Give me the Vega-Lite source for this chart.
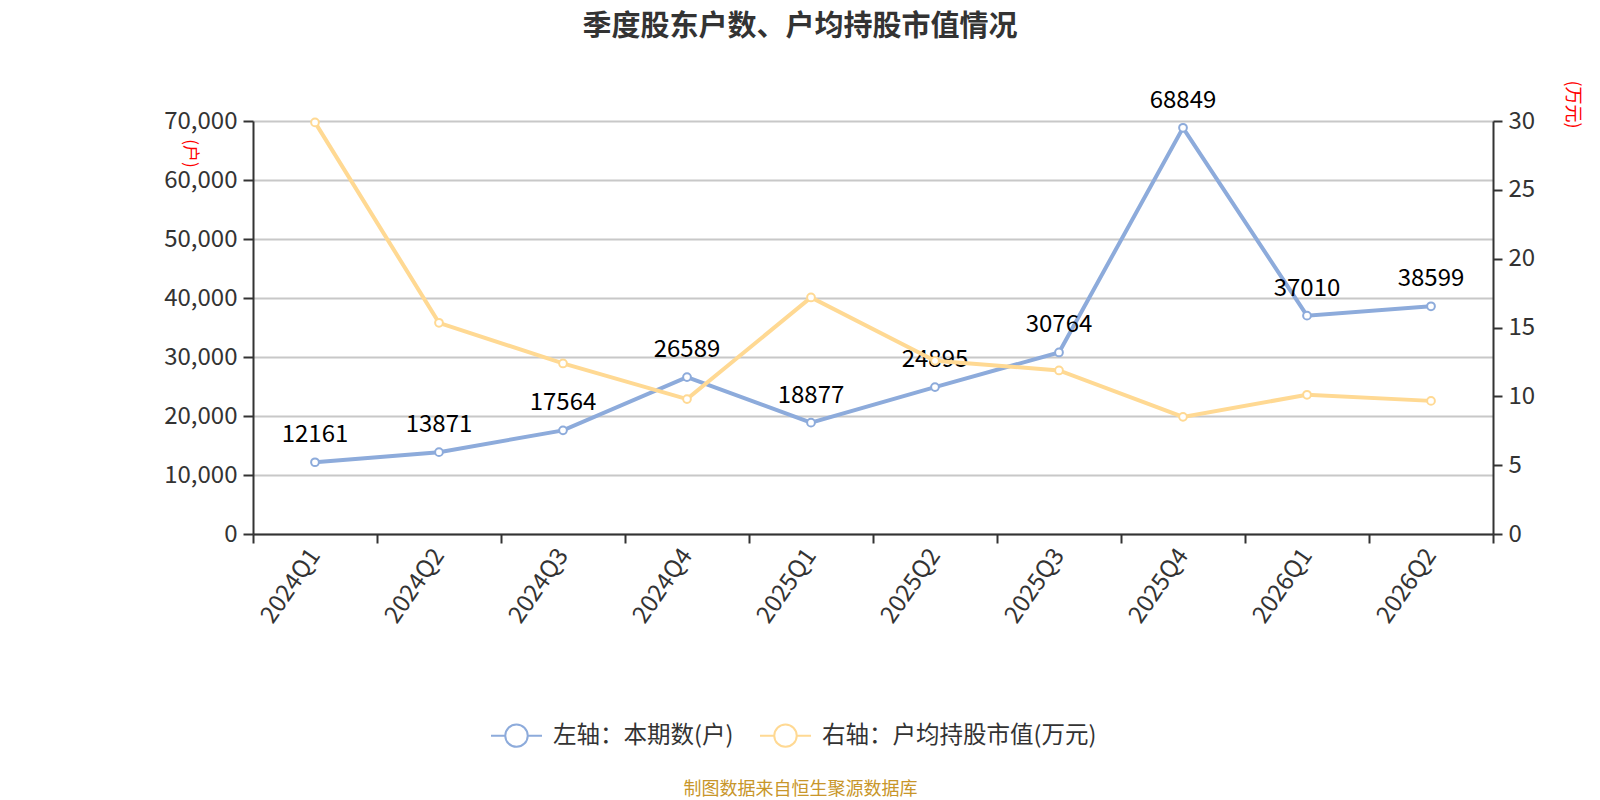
{
  "$schema": "https://vega.github.io/schema/vega-lite/v6.json",
  "autosize": {"type": "none"},
  "width": 1240,
  "height": 413,
  "padding": {"left": 253, "top": 121, "right": 107, "bottom": 266},
  "background": "white",
  "title": {
    "text": "季度股东户数、户均持股市值情况",
    "fontSize": 29,
    "fontWeight": "bold",
    "color": "#333333",
    "font": "Noto Sans CJK SC",
    "anchor": "middle",
    "dx": -73,
    "offset": 38
  },
  "data": {
    "values": [
      {"quarter": "2024Q1", "holders": 12161, "avgValue": 29.9},
      {"quarter": "2024Q2", "holders": 13871, "avgValue": 15.34},
      {"quarter": "2024Q3", "holders": 17564, "avgValue": 12.39},
      {"quarter": "2024Q4", "holders": 26589, "avgValue": 9.8},
      {"quarter": "2025Q1", "holders": 18877, "avgValue": 17.18},
      {"quarter": "2025Q2", "holders": 24895, "avgValue": 12.58},
      {"quarter": "2025Q3", "holders": 30764, "avgValue": 11.88},
      {"quarter": "2025Q4", "holders": 68849, "avgValue": 8.51},
      {"quarter": "2026Q1", "holders": 37010, "avgValue": 10.11},
      {"quarter": "2026Q2", "holders": 38599, "avgValue": 9.67}
    ]
  },
  "encoding": {
    "x": {
      "field": "quarter",
      "type": "ordinal",
      "sort": null,
      "scale": {"type": "band", "paddingInner": 0, "paddingOuter": 0},
      "axis": {
        "title": "制图数据来自恒生聚源数据库",
        "titleColor": "#C8962A",
        "titleFontSize": 18,
        "titleFontWeight": "normal",
        "titleX": 547,
        "titleY": 255,
        "titleAlign": "center",
        "titleBaseline": "middle",
        "labelAngle": -55,
        "labelFontSize": 24,
        "labelColor": "#333333",
        "labelPadding": 8,
        "tickBand": "extent",
        "tickSize": 9,
        "tickWidth": 2,
        "tickColor": "#333333",
        "domainColor": "#333333",
        "domainWidth": 2,
        "grid": false
      }
    },
    "color": {
      "scale": {
        "domain": ["左轴：本期数(户)", "右轴：户均持股市值(万元)"],
        "range": ["#8DABDB", "#FFD993"]
      },
      "legend": {
        "orient": "none",
        "legendX": 237,
        "legendY": 588,
        "direction": "horizontal",
        "title": null,
        "symbolType": "M-1,0L-0.44,0M0.44,0L1,0M0.44,0A0.44,0.44,0,1,1,-0.44,0A0.44,0.44,0,1,1,0.44,0",
        "symbolSize": 2600,
        "symbolStrokeWidth": 2,
        "symbolFillColor": "white",
        "labelFontSize": 23.5,
        "labelColor": "#333333",
        "labelLimit": 0,
        "labelOffset": 10,
        "columnPadding": 22
      }
    }
  },
  "layer": [
    {
      "encoding": {
        "y": {
          "field": "holders",
          "type": "quantitative",
          "title": "(户)",
          "scale": {"domain": [0, 70000]},
          "axis": {
            "orient": "left",
            "format": ",d",
            "values": [0, 10000, 20000, 30000, 40000, 50000, 60000, 70000],
            "labelFontSize": 24,
            "labelColor": "#333333",
            "labelPadding": 6,
            "tickSize": 10,
            "tickWidth": 2,
            "tickColor": "#333333",
            "domainColor": "#333333",
            "domainWidth": 2,
            "grid": true,
            "gridColor": "#C8C8C8",
            "gridWidth": 2,
            "titleColor": "#FF0000",
            "titleFontSize": 17,
            "titleFontWeight": "normal",
            "titleAngle": 90,
            "titleX": -64,
            "titleY": 32,
            "titleAlign": "center",
            "titleBaseline": "middle"
          }
        }
      },
      "layer": [
        {
          "mark": {
            "type": "line",
            "strokeWidth": 4,
            "point": {"filled": false, "fill": "white", "size": 60, "strokeWidth": 2}
          },
          "encoding": {
            "color": {"datum": "左轴：本期数(户)"}
          }
        },
        {
          "mark": {
            "type": "text",
            "dy": -27,
            "fontSize": 24,
            "baseline": "middle",
            "color": "#000000"
          },
          "encoding": {
            "text": {"field": "holders", "type": "quantitative", "format": "d"}
          }
        }
      ]
    },
    {
      "mark": {
        "type": "line",
        "strokeWidth": 4,
        "point": {"filled": false, "fill": "white", "size": 60, "strokeWidth": 2}
      },
      "encoding": {
        "y": {
          "field": "avgValue",
          "type": "quantitative",
          "title": "(万元)",
          "scale": {"domain": [0, 30]},
          "axis": {
            "orient": "right",
            "values": [0, 5, 10, 15, 20, 25, 30],
            "labelFontSize": 24,
            "labelColor": "#333333",
            "labelPadding": 6,
            "tickSize": 9,
            "tickWidth": 2,
            "tickColor": "#333333",
            "domainColor": "#333333",
            "domainWidth": 2,
            "grid": false,
            "titleColor": "#FF0000",
            "titleFontSize": 18,
            "titleFontWeight": "normal",
            "titleAngle": 90,
            "titleX": 78,
            "titleY": -17,
            "titleAlign": "center",
            "titleBaseline": "middle"
          }
        },
        "color": {"datum": "右轴：户均持股市值(万元)"}
      }
    }
  ],
  "resolve": {"scale": {"y": "independent"}},
  "config": {
    "font": "Noto Sans CJK SC",
    "view": {"stroke": null}
  }
}
